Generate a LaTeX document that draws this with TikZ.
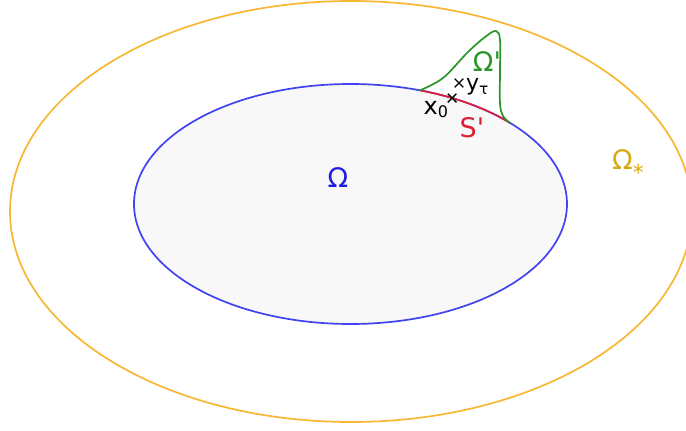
\documentclass[tikz,border=0pt]{standalone}
\usepackage{fontspec}
\setmainfont{DejaVu Sans}
\usepackage{xcolor}
\usepackage{tikz}
\usetikzlibrary{shapes.misc, positioning, calc}

\definecolor{outerorange}{RGB}{247,183,50}
\definecolor{outergold}{RGB}{214,170,20}
\definecolor{innerblue}{RGB}{66,66,240}
\definecolor{omegablue}{RGB}{30,30,225}
\definecolor{bumpgreen}{RGB}{40,150,40}
\definecolor{arcred}{RGB}{225,30,55}
\definecolor{domfill}{RGB}{248,248,248}

\begin{document}
\begin{tikzpicture}[
    x=0.5pt, y=0.5pt,
    line width=0.85pt,
    lbl/.style={inner sep=1pt, font=\fontsize{13.5}{16}\selectfont},
    pt/.style={cross out, draw=black, line width=0.7pt, minimum size=3.6pt, inner sep=0pt}
]
\useasboundingbox (0,0) rectangle (686,430);

% ---- Outer domain ----
\draw[outerorange] (351,218.5) ellipse (341 and 210.5);

% ---- Inner domain ----
\draw[innerblue, fill=domfill] (350.5,226) ellipse (216.5 and 120);

% ---- Boundary piece S' ----
\path (350.5,226) ++(71.3:216.5 and 120) coordinate (sa);
\path (350.5,226) ++(42.5:216.5 and 120) coordinate (sb);
\draw[arcred] (sa) arc (71.3:42.5:216.5 and 120);

% ---- Bump Omega' ----
\draw[bumpgreen] plot[smooth, tension=0.6] coordinates {(sa) (443,352) (467,377) (485,393) (496,399) (500,390) (500,360) (500,327) (503,314) (sb)};

% ---- Points ----
\path (350.5,226) ++(62:216.5 and 120) node[pt] (x0) {};
\node[pt] (yt) at (459,347) {};

% ---- Labels ----
\node[lbl, text=omegablue] (om) at (338,252) {Ω};
\node[lbl, text=outergold] (omstar) at (628,265) {Ω\raisebox{-0.8ex}{\fontsize{11}{13}\selectfont *}};
\node[lbl, text=bumpgreen] (ompr) at (487,368) {Ω\textquotesingle};
\node[lbl, text=arcred] (spr) at (472,302) {S\textquotesingle};
\node[lbl, font=\fontsize{12}{14}\selectfont, anchor=north east] (x0lbl) at ([xshift=2pt, yshift=2pt]x0.south west) {x\textsubscript{0}};
\node[lbl, font=\fontsize{11}{13}\selectfont, anchor=west] (ytlbl) at ([xshift=0pt, yshift=-2pt]yt.east) {y\textsubscript{τ}};

\end{tikzpicture}
\end{document}
